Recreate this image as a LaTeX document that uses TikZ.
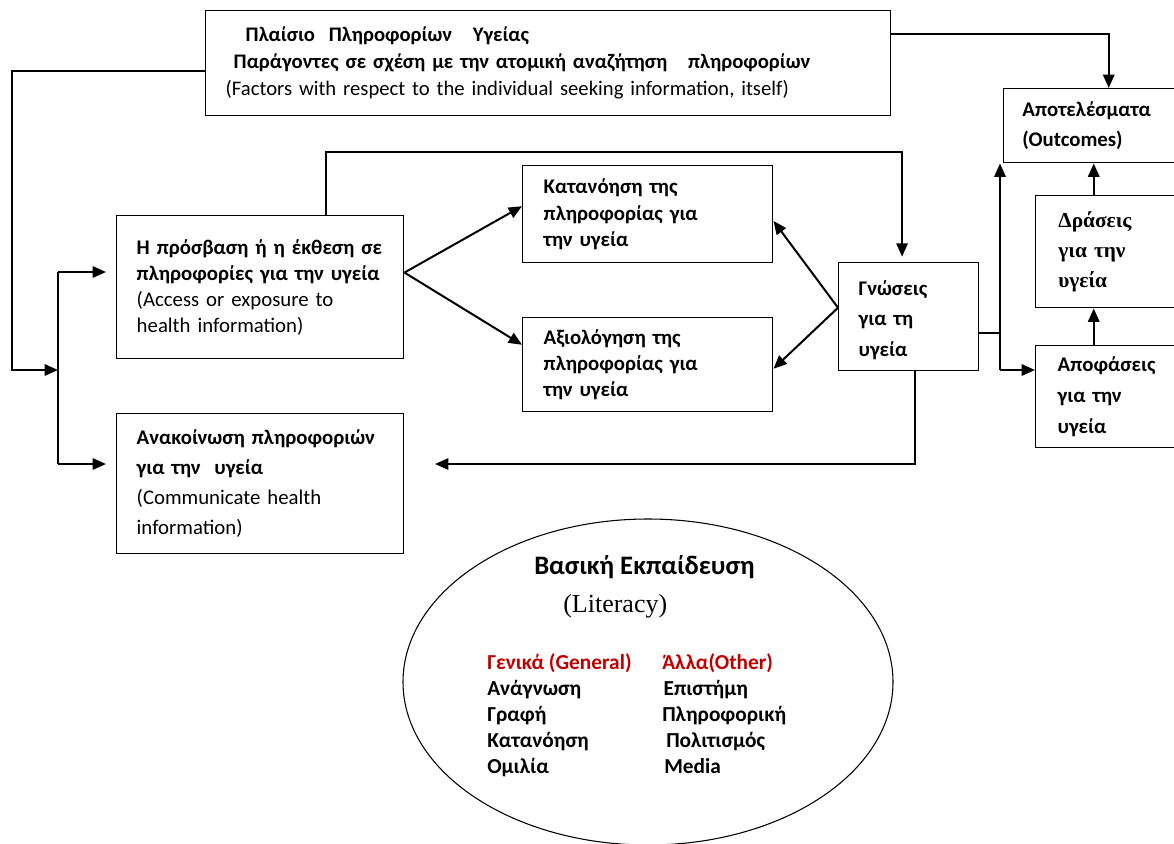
\documentclass[tikz,border=0pt]{standalone}
\usepackage{fontspec}
\setmainfont{Carlito}
\newfontfamily\serifgr{Liberation Serif}
\usepackage{tikz}
\usetikzlibrary{shapes.geometric}
\usetikzlibrary{arrows.meta}
\definecolor{litred}{RGB}{192,0,0}
\tikzstyle{infobox} = [rectangle, draw=black, line width=1.1pt, anchor=north west, align=left, inner ysep=0pt]
\tikzstyle{link} = [line width=1.5pt]
\tikzstyle{arrow} = [line width=1.5pt,-{Triangle[length=10pt,width=8.5pt]}]

\begin{document}
\begin{tikzpicture}[x=0.75pt,y=-0.75pt]
        \useasboundingbox (0,0) rectangle (1174,843);
        \node (info) [infobox, minimum width=513.75pt, minimum height=78.75pt, text width=483.75pt, inner xsep=15pt, font=\fontsize{15.5}{20.25}\selectfont\bfseries] at (205,10) {\hspace*{15pt}Πλαίσιο\ \ Πληροφορίων\ \ \ Υγείας\\\hspace*{6pt}Παράγοντες σε σχέση με την ατομική αναζήτηση\ \ \ πληροφορίων\\\mdseries (Factors with respect to the individual seeking information, itself)};
        \node (access) [infobox, minimum width=215.25pt, minimum height=107.25pt, text width=185.25pt, inner xsep=15pt, font=\fontsize{15.6}{19.5}\selectfont\bfseries] at (116,215) {Η~πρόσβαση~ή~η~έκθεση~σε\\πληροφορίες~για~την~υγεία\\\mdseries (Access or exposure to\\health information)};
        \node (comm) [infobox, minimum width=215.25pt, minimum height=105pt, text width=185.25pt, inner xsep=15pt, font=\fontsize{15.6}{22.5}\selectfont\bfseries] at (116,413) {Ανακοίνωση~πληροφοριών\\για την\ \ υγεία\\\mdseries (Communicate health\\information)};
        \node (under) [infobox, minimum width=187.5pt, minimum height=72.75pt, text width=156pt, inner xsep=15.75pt, font=\fontsize{15.6}{20}\selectfont\bfseries] at (522,165) {Κατανόηση της\\πληροφορίας για\\την υγεία};
        \node (eval) [infobox, minimum width=187.5pt, minimum height=70.5pt, text width=156pt, inner xsep=15.75pt, font=\fontsize{15.6}{19.5}\selectfont\bfseries] at (522,317) {Αξιολόγηση της\\πληροφορίας για\\την υγεία};
        \node (know) [infobox, minimum width=105pt, minimum height=81pt, text width=75pt, inner xsep=15pt, font=\fontsize{15.6}{23}\selectfont\bfseries] at (838,262) {\rule{0pt}{16pt}Γνώσεις\\για τη\\υγεία};
        \node (outc) [infobox, minimum width=142.5pt, minimum height=55.5pt, text width=114.5pt, inner xsep=14pt, font=\fontsize{15.6}{22.5}\selectfont\bfseries] at (1003,88) {Αποτελέσματα\\(Outcomes)};
        \node (act) [infobox, minimum width=120pt, minimum height=84pt, text width=86pt, inner xsep=17pt, font=\serifgr\fontsize{16}{22.5}\selectfont\bfseries] at (1035,195) {Δράσεις\\για την\\υγεία};
        \node (dec) [infobox, minimum width=120pt, minimum height=76.5pt, text width=87pt, inner xsep=16.5pt, font=\fontsize{15.6}{23}\selectfont\bfseries] at (1035,345) {Αποφάσεις\\για την\\υγεία};

        \node (lit) [draw, ellipse, line width=0.8pt, minimum width=367.5pt, minimum height=244.5pt, inner sep=0pt] at (648,682) {};
        \node (littitle) [anchor=west, inner sep=0pt, font=\fontsize{20}{24}\selectfont\bfseries] at (534,567) {Βασική Εκπαίδευση};
        \node (litsub) [anchor=west, inner sep=0pt, font=\serifgr\fontsize{19.5}{24}\selectfont] at (563,606) {(Literacy)};
        \node (general) [anchor=north west, align=left, inner sep=0pt, font=\fontsize{16}{19.5}\selectfont\bfseries] at (487,648) {\rule{0pt}{16pt}\textcolor{litred}{Γενικά (General)}\\Ανάγνωση\\Γραφή\\Κατανόηση\\Ομιλία};
        \node (other) [anchor=north west, align=left, inner sep=0pt, font=\fontsize{16}{19.5}\selectfont\bfseries] at (662,648) {\rule{0pt}{16pt}\textcolor{litred}{Άλλα(Other)}\\\hspace*{1pt}Επιστήμη\\Πληροφορική\\\hspace*{3pt}Πολιτισμός\\\hspace*{1.5pt}Media};

        \coordinate (bustop) at (58,272);
        \coordinate (busbot) at (58,464);
        \coordinate (commin) at (435,464);
        \coordinate (joint) at (1000,370);

        \draw [arrow] ([yshift=-6pt]info.west) -- ++(-193,0) |- (58,370);
        \draw [link] (bustop) -- (busbot);
        \draw [arrow, shorten >=7.5pt] (bustop) -- (bustop -| access.west);
        \draw [arrow, shorten >=7.5pt] (busbot) -- (busbot -| comm.west);
        \draw [arrow] ([yshift=22pt]info.east) -| ([xshift=7.5pt]outc.north);
        \draw [arrow] ([yshift=11pt]access.east) -- ([yshift=6pt]under.west);
        \draw [arrow] ([yshift=11pt]access.east) -- ([yshift=15pt]eval.west);
        \draw [arrow, shorten >=4pt] ([xshift=49pt]access.north) -- ++(0,-63) -| ([xshift=-5pt]know.north);
        \draw [arrow] ([yshift=6.75pt]know.west) -- ([yshift=-5pt]under.east);
        \draw [arrow] ([yshift=6.75pt]know.west) -- ([yshift=-3pt]eval.east);
        \draw [arrow] ([xshift=4.5pt]know.south) |- (commin);
        \draw [link] ([yshift=-12pt]know.east) -- ([yshift=-12pt]know.east -| joint);
        \draw [arrow] (joint) -- (joint |- outc.south);
        \draw [arrow] (joint) -- (joint -| dec.west);
        \draw [arrow] ([xshift=-16.5pt]dec.north) -- ([xshift=-16.5pt]act.south);
        \draw [arrow] ([xshift=-16.5pt]act.north) -- ([xshift=-16.5pt]act.north |- outc.south);
\end{tikzpicture}
\end{document}
